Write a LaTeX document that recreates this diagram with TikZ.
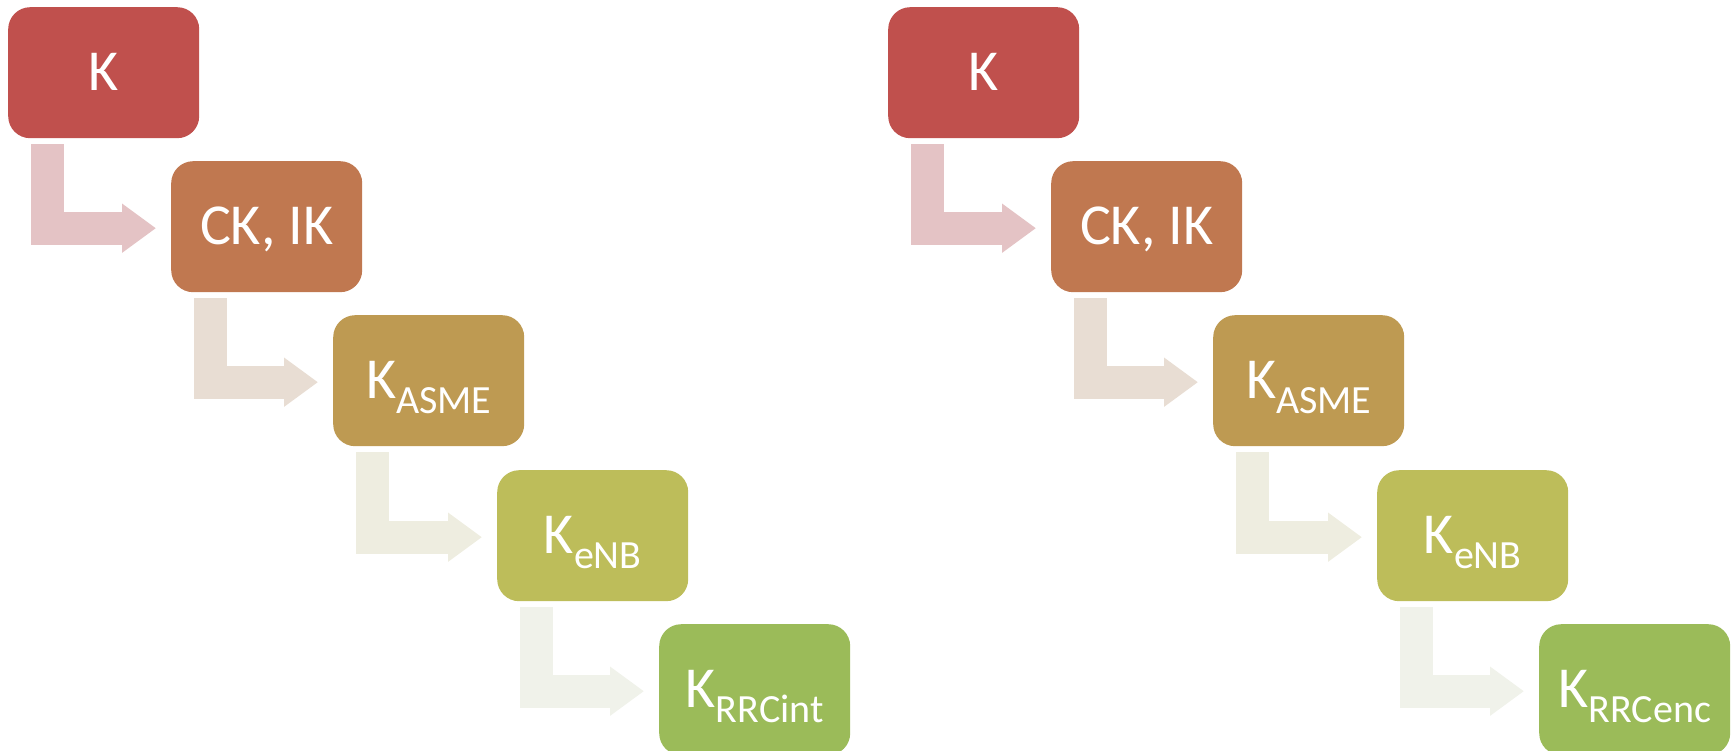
\documentclass[tikz,border=0pt]{standalone}
\usepackage{fontspec}
\setmainfont{Carlito}
\usetikzlibrary{arrows.meta}
\newcommand{\ksb}[1]{K\raisebox{-15pt}{\fontsize{40}{40}\selectfont #1}}
\definecolor{cA}{HTML}{C0504D}
\definecolor{cB}{HTML}{C07850}
\definecolor{cC}{HTML}{BE9A52}
\definecolor{cD}{HTML}{BDBD5A}
\definecolor{cE}{HTML}{9BBB59}
\definecolor{aA}{HTML}{E4C3C5}
\definecolor{aB}{HTML}{E8DDD3}
\definecolor{aC}{HTML}{EEEDE0}
\definecolor{aD}{HTML}{F0F2EA}
\tikzset{
  box/.style={rounded corners=22pt, minimum width=191pt, minimum height=131pt,
    inner sep=0pt, text=white, font=\fontsize{58}{58}\selectfont,
    text height=40pt, text depth=4pt, anchor=north west},
  flow/.style={line width=33pt, line join=miter,
    -{Triangle[width=47pt,length=34pt]}}
}
\begin{document}
\begin{tikzpicture}[x=1pt,y=-1pt]
\useasboundingbox (0,0) rectangle (1731,751);
\foreach \ox/\p/\last in {0/l/int,880/r/enc}{
  \node[box, fill=cA] (\p1) at (8+\ox,7) {K};
  \node[box, fill=cB] (\p2) at (171+\ox,161) {CK, IK};
  \node[box, fill=cC] (\p3) at (333+\ox,315) {\ksb{ASME}};
  \node[box, fill=cD] (\p4) at (497+\ox,470) {\ksb{eNB}};
  \node[box, fill=cE] (\p5) at (659+\ox,624) {\ksb{RRC\last}};
  \draw[flow, aA] ([xshift=39.5pt,yshift=-6pt]\p1.south west) |- ([xshift=-15pt,yshift=-1.5pt]\p2.west);
  \draw[flow, aB] ([xshift=39.5pt,yshift=-6pt]\p2.south west) |- ([xshift=-15pt,yshift=-1.5pt]\p3.west);
  \draw[flow, aC] ([xshift=39.5pt,yshift=-6pt]\p3.south west) |- ([xshift=-15pt,yshift=-1.5pt]\p4.west);
  \draw[flow, aD] ([xshift=39.5pt,yshift=-6pt]\p4.south west) |- ([xshift=-15pt,yshift=-1.5pt]\p5.west);
}
\end{tikzpicture}
\end{document}
